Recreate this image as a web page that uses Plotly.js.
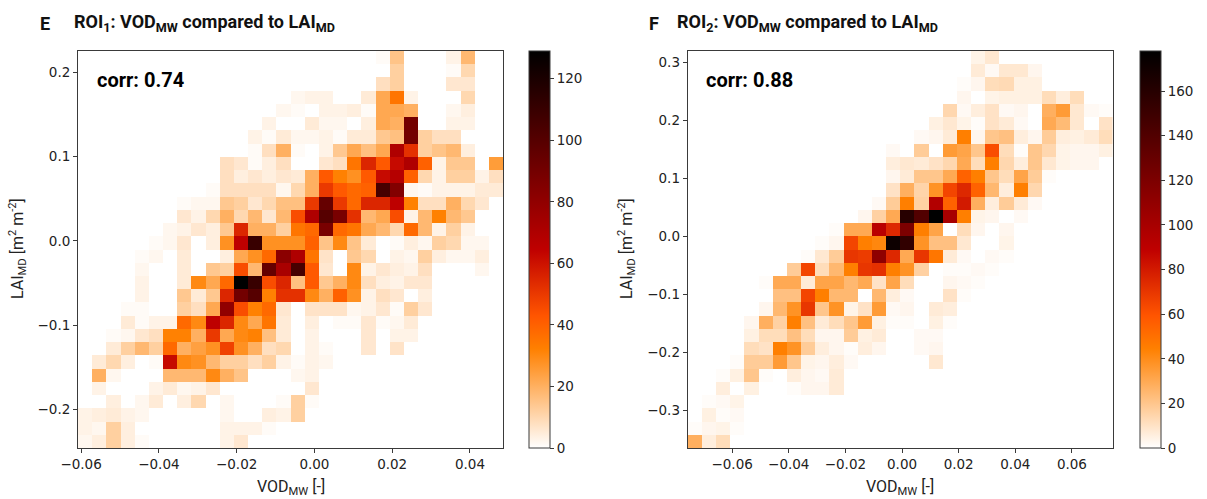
<!DOCTYPE html>
<html>
<head>
<meta charset="utf-8">
<script src="https://cdn.plot.ly/plotly-3.0.1.min.js"></script>
<style>html,body{margin:0;padding:0;background:#fff;}#chart{width:1207px;height:499px;}</style>
</head>
<body>
<div id="chart"></div>
<script>
// ---- Data: 2D histogram counts, rows listed from TOP (highest LAI bin) to BOTTOM ----
const nBins = 30;
const roi1XRange = [-0.0608, 0.0485];   // VOD_MW bin edges (ROI1)
const roi1YRange = [-0.2459, 0.2253];   // LAI_MD bin edges (ROI1)
const roi2XRange = [-0.0757, 0.0744];   // VOD_MW bin edges (ROI2)
const roi2YRange = [-0.3643, 0.3200];   // LAI_MD bin edges (ROI2)
const roi1Corr = "0.74";
const roi2Corr = "0.88";
const roi1Ticks = [0, 20, 40, 60, 80, 100, 120];
const roi2Ticks = [0, 20, 40, 60, 80, 100, 120, 140, 160];

const roi1Counts = [
[0,0,0,0,0,0,0,0,0,0, 0,0,0,0,0,0,0,0,0,0, 0,1,15,0,0,0,3,18,0,0],
[0,0,0,0,0,0,0,0,0,0, 0,0,0,0,0,0,0,0,0,0, 0,0,12,0,0,0,1,10,0,0],
[0,0,0,0,0,0,0,0,0,0, 0,0,0,0,0,0,0,0,0,0, 0,8,12,0,0,0,6,6,0,0],
[0,0,0,0,0,0,0,0,0,0, 0,0,0,0,0,2,3,3,0,0, 5,22,35,3,0,0,0,10,0,0],
[0,0,0,0,0,0,0,0,0,0, 0,0,0,0,2,1,0,3,3,4, 1,22,22,20,0,0,2,4,0,0],
[0,0,0,0,0,0,0,0,0,0, 0,0,0,3,0,0,5,2,2,0, 4,22,20,90,0,0,3,3,0,0],
[0,0,0,0,0,0,0,0,0,0, 0,0,3,1,5,2,2,3,1,5, 5,14,16,90,12,8,8,0,0,0],
[0,0,0,0,0,0,0,0,0,0, 0,0,1,8,20,1,0,3,14,22, 16,22,70,52,12,15,18,4,0,0],
[0,0,0,0,0,0,0,0,0,0, 8,6,1,4,8,0,0,6,8,35, 55,42,62,70,40,3,14,14,0,25],
[0,0,0,0,0,0,0,0,0,0, 8,4,6,4,6,5,20,42,32,28, 42,62,68,40,10,3,12,12,3,8],
[0,0,0,0,0,0,0,0,0,1, 8,8,8,8,2,10,20,50,42,38, 40,105,85,2,1,3,3,3,5,5],
[0,0,0,0,0,0,0,1,2,2, 14,12,6,10,16,16,50,95,50,38, 55,55,65,32,8,8,20,10,6,0],
[0,0,0,0,0,0,0,6,3,10, 20,10,18,6,18,45,70,100,88,52, 18,22,45,3,18,32,18,14,0,0],
[0,0,0,0,0,0,2,3,6,4, 14,55,20,20,12,35,38,88,38,35, 22,18,10,38,18,3,12,3,0,0],
[0,0,0,0,0,1,2,6,0,4, 28,65,110,28,28,28,40,15,30,15, 5,0,1,4,2,12,10,2,2,0],
[0,0,0,0,1,2,0,5,0,0, 4,22,28,38,82,70,35,7,0,14, 10,0,3,2,12,4,2,2,4,0],
[0,0,0,0,2,0,0,5,0,14, 12,45,18,95,72,105,42,6,0,30, 3,6,4,3,8,0,0,0,2,0],
[0,0,0,0,3,0,0,5,30,22, 38,129,110,45,55,16,42,14,20,30, 8,4,3,6,6,0,0,0,0,0],
[0,0,0,0,3,0,0,14,5,14, 55,90,100,32,52,52,30,20,40,28, 3,8,6,0,4,0,0,0,0,0],
[0,0,0,1,1,0,0,12,8,22, 80,45,32,38,6,0,7,7,7,2, 3,6,1,12,6,0,0,0,0,0],
[0,0,0,5,1,3,3,38,30,65, 55,30,22,35,5,0,4,0,1,1, 6,1,2,5,0,0,0,0,0,0],
[0,0,1,2,6,8,32,32,20,50, 22,30,32,16,5,0,3,0,0,0, 6,0,3,3,0,0,0,0,0,0],
[0,0,5,12,18,12,38,20,24,28, 48,28,20,8,10,0,3,1,0,0, 6,0,7,0,0,0,0,0,0,0],
[0,5,10,4,0,1,62,30,28,18, 12,12,8,12,3,1,3,2,0,0, 0,0,0,0,0,0,0,0,0,0],
[0,20,2,0,0,0,18,18,18,30, 20,15,0,0,0,2,3,0,0,0, 0,0,0,0,0,0,0,0,0,0],
[0,3,0,0,0,3,5,2,3,6, 0,0,0,0,0,0,6,0,0,0, 0,0,0,0,0,0,0,0,0,0],
[0,0,4,0,2,5,0,4,10,0, 2,0,0,0,1,12,1,0,0,0, 0,0,0,0,0,0,0,0,0,0],
[3,4,5,3,2,0,0,0,0,0, 2,0,0,4,3,12,0,0,0,0, 0,0,0,0,0,0,0,0,0,0],
[3,2,12,4,0,0,0,0,0,0, 3,3,3,1,0,0,0,0,0,0, 0,0,0,0,0,0,0,0,0,0],
[2,4,12,4,1,0,0,0,0,0, 3,6,0,0,0,0,0,0,0,0, 0,0,0,0,0,0,0,0,0,0]
];

const roi2Counts = [
[0,0,0,0,0,0,0,0,0,0, 0,0,0,0,0,0,0,0,0,0, 4,8,0,0,0,0,0,0,0,0],
[0,0,0,0,0,0,0,0,0,0, 0,0,0,0,0,0,0,0,0,0, 7,2,8,8,3,0,0,0,0,0],
[0,0,0,0,0,0,0,0,0,0, 0,0,0,0,0,0,0,0,0,1, 3,12,13,5,5,0,0,0,0,0],
[0,0,0,0,0,0,0,0,0,0, 0,0,0,0,0,0,0,0,0,3, 0,4,5,5,5,12,6,12,0,0],
[0,0,0,0,0,0,0,0,0,0, 0,0,0,0,0,0,0,0,14,2, 6,10,2,3,0,28,35,8,2,1],
[0,0,0,0,0,0,0,0,0,0, 0,0,0,0,0,0,0,5,8,4, 1,10,7,2,0,30,24,8,0,10],
[0,0,0,0,0,0,0,0,0,0, 0,0,0,0,0,0,2,3,7,45, 3,20,22,6,3,18,6,5,7,12],
[0,0,0,0,0,0,0,0,0,0, 0,0,0,0,2,0,18,0,35,32, 20,62,12,1,20,14,4,3,3,5],
[0,0,0,0,0,0,0,0,0,0, 0,0,0,0,6,8,7,10,14,30, 12,45,14,6,20,8,4,3,3,0],
[0,0,0,0,0,0,0,0,0,0, 0,0,0,0,3,7,20,20,30,55, 45,20,12,32,18,1,0,0,0,0],
[0,0,0,0,0,0,0,0,0,0, 0,0,0,0,10,28,15,38,65,75, 55,25,6,45,14,0,0,0,0,0],
[0,0,0,0,0,0,0,0,0,0, 0,0,0,2,18,45,16,95,55,80, 28,6,18,7,2,0,0,0,0,0],
[0,0,0,0,0,0,0,0,0,0, 0,0,3,16,30,160,140,178,100,45, 4,3,0,2,0,0,0,0,0,0],
[0,0,0,0,0,0,0,0,0,0, 1,30,30,92,75,120,45,32,0,12, 3,0,3,0,0,0,0,0,0,0],
[0,0,0,0,0,0,0,0,0,1, 3,65,45,42,172,155,38,22,22,8, 0,0,4,0,0,0,0,0,0,0],
[0,0,0,0,0,0,0,0,1,8, 18,70,68,112,75,30,70,48,7,2, 0,2,1,0,0,0,0,0,0,0],
[0,0,0,0,0,0,0,18,65,12, 25,45,70,72,45,38,16,0,1,1, 2,1,0,0,0,0,0,0,0,0],
[0,0,0,0,0,1,30,30,7,32, 32,25,30,10,32,12,0,0,3,2, 1,0,0,0,0,0,0,0,0,0],
[0,0,0,0,0,0,22,22,65,45, 25,25,0,25,6,2,0,0,10,1, 0,0,0,0,0,0,0,0,0,0],
[0,0,0,0,0,3,25,38,70,20, 38,4,10,35,2,3,0,7,6,0, 0,0,0,0,0,0,0,0,0,0],
[0,0,0,0,3,28,16,45,22,7, 12,20,35,5,1,1,0,5,1,0, 0,0,0,0,0,0,0,0,0,0],
[0,0,0,0,5,12,12,22,12,3, 3,18,5,7,0,0,2,2,0,0, 0,0,0,0,0,0,0,0,0,0],
[0,0,0,0,12,10,45,38,18,6, 3,1,6,3,0,0,2,3,0,0, 0,0,0,0,0,0,0,0,0,0],
[0,0,0,1,18,18,35,20,4,3, 6,2,0,0,0,0,0,8,0,0, 0,0,0,0,0,0,0,0,0,0],
[0,0,1,5,20,1,0,6,3,2, 7,0,0,0,0,0,0,0,0,0, 0,0,0,0,0,0,0,0,0,0],
[0,0,6,0,5,0,0,1,3,3, 7,0,0,0,0,0,0,0,0,0, 0,0,0,0,0,0,0,0,0,0],
[0,1,2,4,0,0,0,0,0,0, 0,0,0,0,0,0,0,0,0,0, 0,0,0,0,0,0,0,0,0,0],
[0,5,1,2,0,0,0,0,0,0, 0,0,0,0,0,0,0,0,0,0, 0,0,0,0,0,0,0,0,0,0],
[1,3,4,1,0,0,0,0,0,0, 0,0,0,0,0,0,0,0,0,0, 0,0,0,0,0,0,0,0,0,0],
[28,6,12,0,0,0,0,0,0,0, 0,0,0,0,0,0,0,0,0,0, 0,0,0,0,0,0,0,0,0,0]
];

// ---- Helpers ----
function binCenters(range, n) {
  const d = (range[1] - range[0]) / n;
  return Array.from({length: n}, (_, i) => range[0] + (i + 0.5) * d);
}
function maxOf(m) { return Math.max(...m.map(r => Math.max(...r))); }

// matplotlib gist_heat_r
const gistHeatR = [
  [0.0, 'rgb(255,255,255)'],
  [0.25, 'rgb(255,128,0)'],
  [1/3, 'rgb(255,85,0)'],
  [0.5, 'rgb(191,0,0)'],
  [1.0, 'rgb(0,0,0)']
];

const W = 1207, H = 499;
const px = v => v / W;
const py = v => 1 - v / H;   // from top pixel to paper y

const tickFont = {family: 'DejaVu Sans, sans-serif', size: 13.5, color: '#222'};
const lineCol = '#3a3a3a';

function cbar(xLeft, ticks) {
  return {
    x: px(xLeft), xanchor: 'left', xpad: 0, ypad: 0,
    y: py(448), yanchor: 'bottom', len: 397 / H, lenmode: 'fraction',
    thickness: 21, thicknessmode: 'pixels',
    outlinewidth: 1, outlinecolor: lineCol,
    ticks: 'outside', ticklen: 4, tickwidth: 1, tickcolor: lineCol,
    tickmode: 'array', tickvals: ticks, ticktext: ticks.map(String),
    tickfont: tickFont
  };
}

const traces = [
  {
    type: 'heatmap',
    x: binCenters(roi1XRange, nBins),
    y: binCenters(roi1YRange, nBins),
    z: roi1Counts.slice().reverse(),
    zmin: 0, zmax: maxOf(roi1Counts),
    colorscale: gistHeatR, zsmooth: false,
    xaxis: 'x', yaxis: 'y', hoverinfo: 'skip',
    colorbar: cbar(529, roi1Ticks)
  },
  {
    type: 'heatmap',
    x: binCenters(roi2XRange, nBins),
    y: binCenters(roi2YRange, nBins),
    z: roi2Counts.slice().reverse(),
    zmin: 0, zmax: maxOf(roi2Counts),
    colorscale: gistHeatR, zsmooth: false,
    xaxis: 'x2', yaxis: 'y2', hoverinfo: 'skip',
    colorbar: cbar(1140, roi2Ticks)
  }
];

function axisCommon(extra) {
  return Object.assign({
    showgrid: false, zeroline: false,
    showline: true, linecolor: lineCol, linewidth: 1, mirror: true,
    ticks: 'outside', ticklen: 4, tickwidth: 1, tickcolor: lineCol,
    tickfont: tickFont, fixedrange: true
  }, extra);
}

const titleFont = {family: 'Roboto, sans-serif', size: 18, color: '#111', weight: 'bold'};
const labelFont = {family: 'Roboto, sans-serif', size: 16, color: '#222'};
const corrFont = {family: 'Roboto, sans-serif', size: 20, color: '#000', weight: 'bold'};

function ann(text, xPix, yPix, font, opts) {
  return Object.assign({
    text: text, xref: 'paper', yref: 'paper',
    x: px(xPix), y: py(yPix), xanchor: 'left', yanchor: 'middle',
    showarrow: false, font: font
  }, opts || {});
}

const layout = {
  width: W, height: H,
  margin: {l: 0, r: 0, t: 0, b: 0},
  paper_bgcolor: '#fff', plot_bgcolor: '#fff',
  showlegend: false,
  xaxis: axisCommon({domain: [px(78), px(503)], range: roi1XRange, anchor: 'y',
    tickmode: 'linear', tick0: -0.06, dtick: 0.02, tickformat: '.2f'}),
  yaxis: axisCommon({domain: [py(448), py(51)], range: roi1YRange, anchor: 'x',
    tickmode: 'linear', tick0: -0.2, dtick: 0.1, tickformat: '.1f'}),
  xaxis2: axisCommon({domain: [px(687.7), px(1112.7)], range: roi2XRange, anchor: 'y2',
    tickmode: 'linear', tick0: -0.06, dtick: 0.02, tickformat: '.2f'}),
  yaxis2: axisCommon({domain: [py(448), py(51)], range: roi2YRange, anchor: 'x2',
    tickmode: 'linear', tick0: -0.3, dtick: 0.1, tickformat: '.1f'}),
  annotations: [
    ann('E', 38, 23, titleFont),
    ann('ROI<sub>1</sub>: VOD<sub>MW</sub> compared to LAI<sub>MD</sub>', 72, 23, titleFont),
    ann('F', 647, 23, titleFont),
    ann('ROI<sub>2</sub>: VOD<sub>MW</sub> compared to LAI<sub>MD</sub>', 675, 23, titleFont),
    ann('corr: ' + roi1Corr, 95, 80, corrFont),
    ann('corr: ' + roi2Corr, 704, 80, corrFont),
    ann('VOD<sub>MW</sub> [-]', 290.5, 487, labelFont, {xanchor: 'center'}),
    ann('VOD<sub>MW</sub> [-]', 900, 487, labelFont, {xanchor: 'center'}),
    ann('LAI<sub>MD</sub> [m<sup>2</sup> m<sup>-2</sup>]', 18, 249, labelFont, {xanchor: 'center', textangle: -90}),
    ann('LAI<sub>MD</sub> [m<sup>2</sup> m<sup>-2</sup>]', 627, 249, labelFont, {xanchor: 'center', textangle: -90})
  ]
};

Plotly.newPlot('chart', traces, layout, {displayModeBar: false, staticPlot: true});
</script>
</body>
</html>
